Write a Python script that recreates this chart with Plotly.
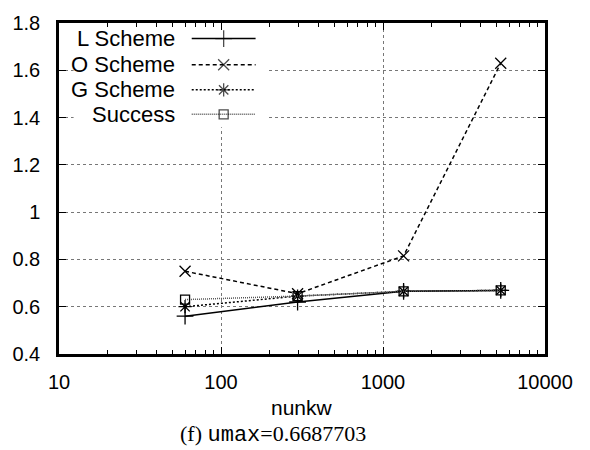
import plotly.graph_objects as go

# ---- data ----
nunkw = [60, 297, 1340, 5330]
l_scheme = [0.56, 0.62, 0.665, 0.669]
o_scheme = [0.75, 0.655, 0.815, 1.63]
g_scheme = [0.60, 0.645, 0.665, 0.669]
success = [0.63, 0.645, 0.665, 0.669]

series_names = ["L Scheme", "O Scheme", "G Scheme", "Success"]
series_values = [l_scheme, o_scheme, g_scheme, success]

x_tickvals = [10, 100, 1000, 10000]
x_ticktext = ["10", "100", "1000", "10000"]
x_minor = [20, 30, 40, 50, 60, 70, 80, 90, 200, 300, 400, 500, 600, 700, 800, 900,
           2000, 3000, 4000, 5000, 6000, 7000, 8000, 9000]
y_tickvals = [0.4, 0.6, 0.8, 1.0, 1.2, 1.4, 1.6, 1.8]
y_ticktext = ["0.4", "0.6", "0.8", "1", "1.2", "1.4", "1.6", "1.8"]

# ---- styles ----
styles = [
    dict(dash="solid", color="black", symbol="cross-thin-open", size=12),
    dict(dash="4px,3px", color="black", symbol="x-thin-open", size=11),
    dict(dash="2px,2px", color="black", symbol="asterisk-open", size=11),
    dict(dash="1px,1px", color="#555555", symbol="square-open", size=9),
]

FONT = "Liberation Sans, Arial, Helvetica, sans-serif"

fig = go.Figure()

for name, vals, st in zip(series_names, series_values, styles):
    fig.add_trace(go.Scatter(
        x=nunkw, y=vals, name=name, mode="lines+markers",
        line=dict(color=st["color"], dash=st["dash"], width=1.5),
        marker=dict(symbol=st["symbol"], size=st["size"], color="black",
                    line=dict(color="black", width=1.3)),
        showlegend=False,
    ))

# ---- custom gnuplot-like key on an overlay axis (0..1 paper-like) ----
box_x = [0.03, 0.427, 0.427, 0.03, 0.03]
box_y = [0.685, 0.685, 0.994, 0.994, 0.685]
fig.add_trace(go.Scatter(x=box_x, y=box_y, xaxis="x2", yaxis="y2", mode="lines",
                         fill="toself", fillcolor="white", line=dict(width=0),
                         hoverinfo="skip", showlegend=False))

key_rows = [0.953, 0.874, 0.798, 0.724]
key_x = [0.2731, 0.3388, 0.4045]
for name, st, ky in zip(series_names, styles, key_rows):
    fig.add_trace(go.Scatter(
        x=key_x, y=[ky, ky, ky], xaxis="x2", yaxis="y2", mode="lines+markers",
        line=dict(color=st["color"], dash=st["dash"], width=1.5),
        marker=dict(symbol=st["symbol"], size=[0, st["size"], 0], color="black",
                    line=dict(color="black", width=1.3)),
        hoverinfo="skip", showlegend=False,
    ))
    fig.add_annotation(x=0.2437, y=ky, xref="paper", yref="paper", text=name,
                       showarrow=False, xanchor="right", yanchor="middle",
                       font=dict(family=FONT, size=22, color="black"))

axis_common = dict(
    showline=True, linecolor="black", linewidth=2.5, mirror="ticks",
    ticks="inside", tickcolor="black", tickwidth=1, ticklen=7,
    showgrid=True, gridcolor="#777777", griddash="dot", gridwidth=1,
    zeroline=False, tickfont=dict(family=FONT, size=20, color="black"),
)

fig.update_layout(
    width=590, height=450,
    margin=dict(l=58, r=45, t=13, b=96),
    paper_bgcolor="white", plot_bgcolor="white",
    xaxis=dict(type="log", range=[1, 4], tickvals=x_tickvals, ticktext=x_ticktext,
               ticklabelstandoff=8,
               minor=dict(tickvals=x_minor, ticks="inside", ticklen=4,
                          tickcolor="black", tickwidth=1, showgrid=False),
               **axis_common),
    yaxis=dict(range=[0.4, 1.8], tickvals=y_tickvals, ticktext=y_ticktext,
               ticklabelstandoff=12, **axis_common),
    xaxis2=dict(overlaying="x", range=[0, 1], visible=False, fixedrange=True),
    yaxis2=dict(overlaying="y", range=[0, 1], visible=False, fixedrange=True),
    showlegend=False,
)

fig.add_annotation(x=0.5, y=-0.1613, xref="paper", yref="paper", text="nunkw",
                   showarrow=False, xanchor="center", yanchor="middle",
                   font=dict(family=FONT, size=21, color="black"))
fig.add_annotation(x=0.2444, y=-0.2434, xref="paper", yref="paper",
                   text="(f) <span style='font-family:Liberation Mono, DejaVu Sans Mono, monospace'>umax</span>=0.6687703",
                   showarrow=False, xanchor="left", yanchor="middle",
                   font=dict(family="Liberation Serif, Times New Roman, serif", size=22, color="black"))

fig.write_html("out.html")
